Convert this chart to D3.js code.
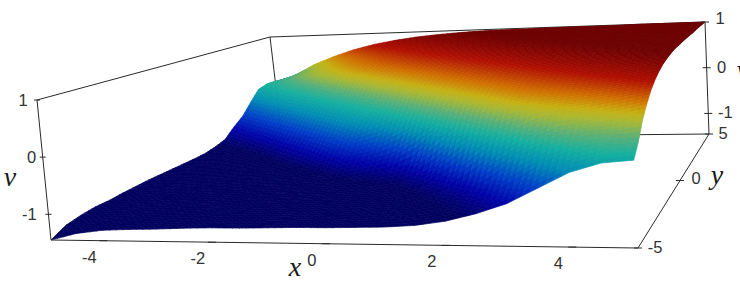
<!DOCTYPE html>
<html><head><meta charset="utf-8">
<script src="https://cdn.jsdelivr.net/npm/d3@7"></script>
<style>html,body{margin:0;background:#fff;overflow:hidden}svg{display:block}</style>
</head><body><div id="c"></div>
<script>
const xTicks=[-4,-2,0,2,4];
const yTicks=[-5,0,5];
const vTicks=[-1,0,1];
const xGrid=[-5,-4.5,-4,-3.5,-3,-2.5,-2,-1.5,-1,-0.5,0,0.5,1,1.5,2,2.5,3,3.5,4,4.5,5];
const yGrid=xGrid.slice();
const vRows=[
[-1.45,-1.33,-1.27,-1.25,-1.24,-1.22,-1.21,-1.21,-1.20,-1.19,-1.19,-1.18,-1.17,-1.14,-1.07,-0.95,-0.79,-0.55,-0.31,-0.17,-0.13],
[-1.31,-1.27,-1.25,-1.24,-1.22,-1.21,-1.20,-1.20,-1.19,-1.18,-1.17,-1.15,-1.11,-1.07,-0.98,-0.85,-0.61,-0.30,-0.10,0.03,0.05],
[-1.25,-1.25,-1.24,-1.22,-1.21,-1.20,-1.19,-1.18,-1.17,-1.15,-1.13,-1.09,-1.06,-1.00,-0.90,-0.65,-0.29,-0.05,0.14,0.19,0.30],
[-1.21,-1.24,-1.22,-1.21,-1.20,-1.18,-1.17,-1.15,-1.13,-1.12,-1.09,-1.06,-1.02,-0.93,-0.69,-0.29,-0.01,0.23,0.29,0.38,0.48],
[-1.20,-1.22,-1.21,-1.19,-1.18,-1.16,-1.14,-1.13,-1.11,-1.09,-1.06,-1.03,-0.96,-0.71,-0.28,0.01,0.28,0.37,0.44,0.53,0.63],
[-1.17,-1.19,-1.17,-1.16,-1.14,-1.13,-1.12,-1.11,-1.08,-1.06,-1.03,-0.97,-0.72,-0.28,0.03,0.32,0.42,0.49,0.56,0.65,0.74],
[-1.15,-1.17,-1.16,-1.14,-1.13,-1.11,-1.10,-1.08,-1.05,-0.95,-0.88,-0.72,-0.28,0.03,0.32,0.45,0.52,0.59,0.67,0.75,0.82],
[-1.13,-1.16,-1.14,-1.13,-1.11,-1.10,-1.08,-1.04,-0.85,-0.75,-0.62,-0.28,0.03,0.32,0.45,0.54,0.61,0.68,0.75,0.82,0.88],
[-1.12,-1.14,-1.13,-1.11,-1.10,-1.07,-1.00,-0.82,-0.62,-0.50,-0.24,0.03,0.32,0.45,0.54,0.62,0.69,0.76,0.83,0.88,0.92],
[-1.11,-1.13,-1.11,-1.10,-1.07,-0.98,-0.78,-0.55,-0.36,-0.18,0.03,0.32,0.45,0.54,0.62,0.69,0.76,0.83,0.88,0.92,0.95],
[-1.10,-1.11,-1.10,-1.07,-0.98,-0.78,-0.55,-0.30,-0.12,0.03,0.32,0.45,0.54,0.62,0.69,0.76,0.83,0.88,0.92,0.95,0.97],
[-1.09,-1.09,-1.06,-0.98,-0.78,-0.55,-0.30,-0.12,0.03,0.32,0.45,0.54,0.62,0.69,0.76,0.83,0.88,0.92,0.95,0.97,0.98],
[-1.07,-1.05,-0.97,-0.78,-0.55,-0.30,-0.12,0.03,0.32,0.45,0.54,0.62,0.69,0.76,0.83,0.88,0.92,0.95,0.97,0.98,0.98],
[-1.02,-0.95,-0.78,-0.55,-0.30,-0.12,0.03,0.32,0.45,0.54,0.62,0.69,0.76,0.83,0.88,0.92,0.95,0.97,0.98,0.98,0.99],
[-0.95,-0.78,-0.56,-0.31,-0.12,0.03,0.32,0.45,0.54,0.62,0.69,0.76,0.83,0.88,0.92,0.95,0.97,0.98,0.98,0.99,0.99],
[-0.76,-0.58,-0.32,-0.12,0.02,0.32,0.45,0.54,0.62,0.69,0.76,0.83,0.88,0.92,0.95,0.97,0.98,0.98,0.99,0.99,0.99],
[-0.60,-0.33,-0.12,0.01,0.29,0.42,0.52,0.61,0.69,0.76,0.83,0.88,0.92,0.95,0.97,0.98,0.98,0.99,0.99,0.99,0.99],
[-0.36,-0.13,-0.01,0.24,0.37,0.49,0.59,0.68,0.76,0.83,0.88,0.92,0.95,0.97,0.98,0.98,0.99,0.99,0.99,0.99,1.00],
[-0.13,-0.04,0.16,0.29,0.44,0.56,0.67,0.75,0.83,0.88,0.92,0.95,0.97,0.98,0.98,0.99,0.99,0.99,0.99,1.00,1.00],
[-0.07,0.05,0.19,0.38,0.53,0.65,0.75,0.82,0.88,0.92,0.95,0.97,0.98,0.98,0.99,0.99,0.99,0.99,1.00,1.00,1.00],
[-0.09,0.05,0.30,0.48,0.63,0.74,0.82,0.88,0.92,0.95,0.97,0.98,0.98,0.99,0.99,0.99,0.99,1.00,1.00,1.00,1.00]
];
const colorStops=[-1,-0.8,-0.55,-0.3,-0.08,0.1,0.28,0.38,0.52,0.72,0.95];
const colorValues=["#00005f","#0000a8","#0040c8","#008cb4","#14b0a0","#5ab078","#aab832","#c6b012","#d06e00","#b00e00","#6e0000"];

const W=740,H=291;
const floorQuad=[[51,240],[638,248],[709,134],[282,138]];
const topQuad=[[37,100],[630,85],[705,22],[270,37]];
function quadMap(q){
  const [[x0,y0],[x1,y1],[x2,y2],[x3,y3]]=q;
  const dx1=x1-x2,dx2=x3-x2,sx=x0-x1+x2-x3,dy1=y1-y2,dy2=y3-y2,sy=y0-y1+y2-y3;
  const den=dx1*dy2-dx2*dy1;
  const g=(sx*dy2-dx2*sy)/den,h=(dx1*sy-sx*dy1)/den;
  const a=x1-x0+g*x1,b=x3-x0+h*x3,d=y1-y0+g*y1,e=y3-y0+h*y3;
  return (u,w)=>{const k=g*u+h*w+1;return [(a*u+b*w+x0)/k,(d*u+e*w+y0)/k];};
}
const floorMap=quadMap(floorQuad),topMap=quadMap(topQuad);
const sx=d3.scaleLinear().domain([-5,5]).range([0,1]);
const sy=d3.scaleLinear().domain([-5,5]).range([0,1]);
const sv=d3.scaleLinear().domain([-1.45,1]).range([0,1]);
function project(x,y,v){
  const a=floorMap(sx(x),sy(y)),b=topMap(sx(x),sy(y)),f=sv(v);
  return [a[0]+(b[0]-a[0])*f,a[1]+(b[1]-a[1])*f];
}
const color=d3.scaleLinear().domain(colorStops).range(colorValues).clamp(true);
const svg=d3.select("#c").append("svg").attr("width",W).attr("height",H).attr("viewBox",`0 0 ${W} ${H}`);
const line=d3.line();
const stroke="#2a2a2a";
const axisG=svg.append("g").attr("fill","none").attr("stroke",stroke).attr("stroke-width",1);
function seg(g,a,b){g.append("path").attr("d",line([a,b]));}
const vMin=-1.45,vMax=1;
seg(axisG,project(-5,5,vMin),project(5,5,vMin));
seg(axisG,project(-5,5,vMin),project(-5,5,vMax));
seg(axisG,project(-5,-5,vMax),project(-5,5,vMax));
seg(axisG,project(-5,5,vMax),project(5,5,vMax));
const SUB=4;
const cells=[];
for(let i=yGrid.length-2;i>=0;i--){
  for(let j=0;j<xGrid.length-1;j++){
    const a=vRows[i][j],b=vRows[i][j+1],c=vRows[i+1][j],d=vRows[i+1][j+1];
    for(let m=SUB-1;m>=0;m--)for(let n=0;n<SUB;n++){
      const px=t=>xGrid[j]+(xGrid[j+1]-xGrid[j])*t, py=t=>yGrid[i]+(yGrid[i+1]-yGrid[i])*t;
      const bil=(s,t)=>a*(1-s)*(1-t)+b*s*(1-t)+c*(1-s)*t+d*s*t;
      const s0=n/SUB,s1=(n+1)/SUB,t0=m/SUB,t1=(m+1)/SUB;
      cells.push({pts:[[s0,t0],[s1,t0],[s1,t1],[s0,t1]].map(([s,t])=>project(px(s),py(t),bil(s,t))),
        v:bil((s0+s1)/2,(t0+t1)/2)});
    }
  }
}
svg.append("g").style("filter","blur(0.5px)").selectAll("path").data(cells).join("path")
  .attr("d",d=>line(d.pts)+"Z")
  .attr("fill",d=>color(d.v)).attr("stroke",d=>color(d.v)).attr("stroke-width",0.7);
const frontG=svg.append("g").attr("fill","none").attr("stroke",stroke).attr("stroke-width",1);
seg(frontG,project(-5,-5,vMin),project(5,-5,vMin));
seg(frontG,project(5,-5,vMin),project(5,5,vMin));
seg(frontG,project(-5,-5,vMin),project(-5,-5,vMax));
seg(frontG,project(5,5,vMin),project(5,5,vMax));
const tl=4;
xTicks.forEach(t=>{const p=project(t,-5,vMin);seg(frontG,[p[0]-tl,p[1]],[p[0]+tl,p[1]]);});
yTicks.forEach(t=>{const p=project(5,t,vMin);seg(frontG,[p[0]-tl,p[1]],[p[0]+tl,p[1]]);});
vTicks.forEach(t=>{
  let p=project(-5,-5,t);seg(frontG,[p[0]-3,p[1]],[p[0]+3,p[1]]);
  p=project(5,5,t);seg(frontG,[p[0]-4,p[1]],[p[0]+4,p[1]]);
});
const fmt=d3.format("d");
const lab=svg.append("g").attr("font-family","'Liberation Sans',Arial,sans-serif").attr("font-size",16.5).attr("fill","#333").attr("text-anchor","middle");
function tx(g,p,dx,dy,s){g.append("text").attr("x",p[0]+dx).attr("y",p[1]+dy).text(s);}
const minus=v=>fmt(v).replace("\u2212","-");
xTicks.forEach(t=>tx(lab,project(t,-5,vMin),-14,22,minus(t)));
yTicks.forEach(t=>tx(lab,project(5,t,vMin),t===-5?17:t===0?16:14,t===0?3:5,minus(t)));
vTicks.forEach(t=>tx(lab,project(-5,-5,t),t===-1?-19:t===0?-11:-14,6,minus(t)));
vTicks.forEach(t=>tx(lab,project(5,5,t),t===-1?17:15,t===1?2:5,minus(t)));
const math=svg.append("g").attr("font-family","'Liberation Serif',serif").attr("font-style","italic").attr("font-size",28).attr("fill","#1a1a1a").attr("text-anchor","middle");
math.append("text").attr("x",10).attr("y",186).text("v");
math.append("text").attr("x",295).attr("y",276).text("x");
math.append("text").attr("x",717).attr("y",184).text("y");
math.append("text").attr("x",743).attr("y",79).text("v");
</script></body></html>
